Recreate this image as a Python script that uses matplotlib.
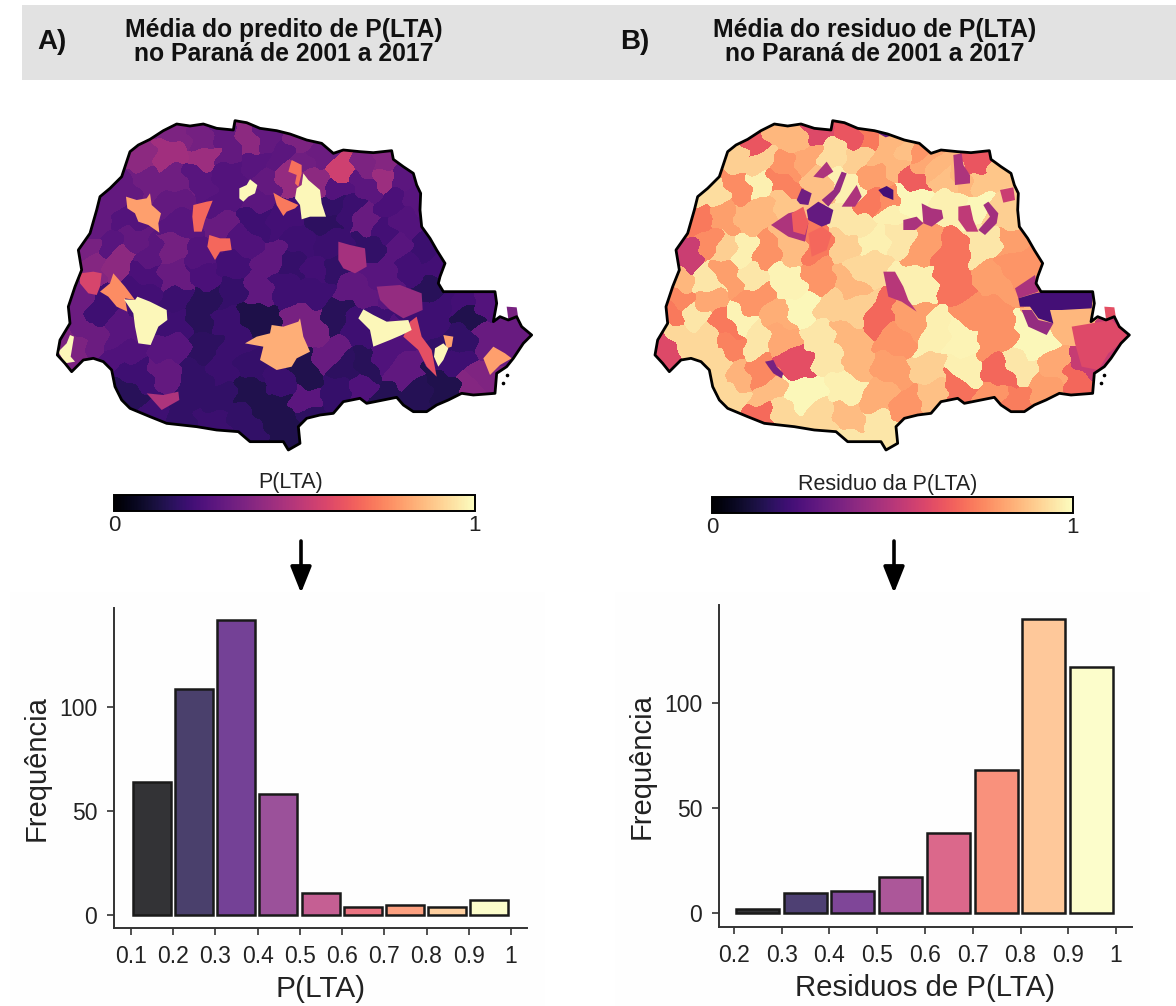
import numpy as np
import matplotlib
matplotlib.use('Agg')
import matplotlib.pyplot as plt
from matplotlib.cm import ScalarMappable
from matplotlib.collections import PolyCollection
from matplotlib.colors import Normalize
from matplotlib.patches import Polygon, Rectangle

plt.rcParams['font.family'] = ['Liberation Sans', 'DejaVu Sans']

W, H = 1176, 1006

# histograms
bins_a = ['0.1', '0.2', '0.3', '0.4', '0.5', '0.6', '0.7', '0.8', '0.9', '1']
freq_a = [64, 108.5, 142, 58, 10.5, 4, 5, 4, 7]
bins_b = ['0.2', '0.3', '0.4', '0.5', '0.6', '0.7', '0.8', '0.9', '1']
freq_b = [2, 9.5, 10.5, 17, 38, 68, 140, 117]

# state outline (3x crop coordinates)
outline = [(240, 125), (265, 105), (300, 88), (340, 62), (380, 42), (420, 48), (460, 42), (500, 55),
           (550, 60), (555, 32), (590, 38), (630, 55), (680, 62), (720, 72), (770, 90), (815, 100),
           (850, 130), (880, 120), (930, 125), (970, 128), (1025, 122), (1030, 148), (1060, 170),
           (1090, 190), (1100, 225), (1112, 250), (1110, 300), (1115, 350), (1140, 385), (1160, 420),
           (1185, 460), (1170, 500), (1165, 520), (1180, 545), (1240, 545), (1300, 545), (1335, 545),
           (1340, 580), (1330, 635), (1350, 620), (1375, 630), (1400, 620), (1415, 650), (1445, 675),
           (1420, 700), (1390, 745), (1370, 770), (1340, 790), (1335, 850), (1270, 855), (1235, 850),
           (1195, 870), (1160, 885), (1130, 905), (1090, 905), (1060, 885), (1040, 862), (1000, 870),
           (950, 880), (930, 865), (880, 875), (850, 910), (810, 915), (770, 925), (745, 950),
           (750, 1000), (715, 1020), (700, 995), (650, 995), (600, 995), (565, 965), (500, 960),
           (440, 950), (350, 940), (300, 920), (240, 895), (215, 870), (195, 830), (185, 780),
           (160, 755), (130, 745), (100, 750), (65, 785), (45, 760), (22, 735), (30, 690), (60, 640),
           (55, 590), (75, 530), (95, 480), (85, 420), (120, 370), (140, 300), (150, 260), (180, 235),
           (215, 200)]
islands = [(1370, 795), (1360, 820)]

# municipalities panel A: x, y, P(LTA)
cells_a = [(380, 75, .36), (450, 80, .34), (520, 85, .30), (590, 100, .40), (650, 90, .30), (730, 100, .36),
           (800, 125, .32), (270, 150, .40), (355, 130, .45), (465, 135, .44), (535, 130, .30), (620, 150, .27),
           (690, 130, .28), (770, 155, .33), (880, 195, .56), (950, 170, .36), (1005, 195, .44), (1010, 150, .38),
           (215, 230, .30), (290, 200, .33), (370, 215, .33), (450, 200, .27), (530, 195, .26), (650, 210, .30),
           (710, 205, .42), (800, 200, .40), (860, 240, .26), (940, 220, .28), (1060, 210, .28), (190, 290, .30),
           (370, 280, .30), (520, 290, .26), (620, 270, .28), (850, 290, .18), (950, 320, .31), (1020, 280, .24),
           (1085, 260, .27), (150, 340, .30), (225, 330, .26), (390, 340, .27), (520, 330, .31), (620, 320, .21),
           (700, 330, .22), (830, 320, .17), (900, 300, .20), (1060, 340, .26), (1000, 360, .22), (110, 420, .35),
           (180, 400, .27), (240, 390, .30), (360, 420, .34), (300, 430, .28), (450, 430, .26), (570, 400, .25),
           (670, 450, .29), (740, 400, .21), (830, 400, .20), (970, 410, .18), (1030, 420, .27), (1120, 420, .20),
           (125, 450, .38), (210, 450, .40), (290, 490, .24), (370, 500, .31), (470, 490, .24), (550, 470, .22),
           (620, 540, .29), (730, 460, .19), (800, 470, .22), (860, 480, .18), (1000, 480, .27), (1090, 470, .22),
           (1150, 460, .22), (90, 590, .32), (280, 540, .22), (370, 580, .20), (470, 570, .16), (540, 550, .19),
           (700, 530, .21), (790, 530, .21), (900, 540, .29), (1140, 520, .16), (1240, 580, .22), (1300, 570, .26),
           (80, 650, .32), (140, 600, .21), (200, 680, .27), (380, 640, .21), (450, 620, .16), (530, 640, .20),
           (620, 610, .13), (780, 640, .35), (870, 620, .16), (1170, 590, .21), (1260, 610, .14), (60, 700, .36),
           (130, 670, .32), (220, 730, .25), (370, 720, .27), (460, 700, .17), (550, 720, .20), (840, 740, .31),
           (920, 650, .21), (1000, 740, .25), (1230, 700, .18), (1310, 680, .31), (1390, 680, .31), (260, 800, .21),
           (350, 790, .30), (440, 800, .18), (520, 780, .20), (600, 760, .19), (770, 780, .14), (880, 780, .17),
           (1040, 800, .29), (960, 760, .16), (1230, 760, .21), (1290, 800, .37), (240, 860, .16), (420, 870, .18),
           (500, 860, .18), (600, 840, .14), (680, 810, .20), (780, 880, .28), (850, 840, .19), (930, 830, .25),
           (1000, 850, .15), (1100, 860, .15), (1180, 840, .14), (1260, 830, .38), (320, 910, .21), (400, 920, .18),
           (480, 930, .20), (590, 930, .18), (660, 900, .14), (710, 960, .14), (790, 900, .17)]

# municipalities that stand out in panel A: value, outline
spots_a = [(.42, [(980, 530), (1050, 525), (1115, 550), (1118, 600), (1060, 625), (1020, 600), (990, 570)]),
           (.985, [(760, 190), (775, 210), (810, 240), (815, 280), (828, 320), (780, 320), (755, 328), (750, 285), (735, 265), (740, 235), (755, 225)]),
           (.70, [(725, 150), (755, 165), (755, 190), (745, 230), (735, 220), (740, 195), (715, 185)]),
           (.985, [(568, 235), (590, 225), (600, 208), (622, 225), (615, 250), (595, 260), (580, 275), (568, 265)]),
           (.72, [(670, 248), (700, 265), (745, 285), (735, 295), (710, 305), (700, 318), (680, 285)]),
           (.80, [(228, 260), (260, 270), (290, 265), (300, 250), (305, 285), (333, 310), (325, 340), (328, 368), (295, 345), (265, 335), (255, 310), (232, 295)]),
           (.68, [(430, 285), (470, 275), (488, 272), (465, 330), (455, 365), (432, 365), (427, 320)]),
           (.68, [(478, 375), (510, 385), (540, 385), (545, 420), (510, 425), (495, 450), (472, 410)]),
           (.46, [(865, 395), (900, 405), (945, 415), (950, 470), (915, 490), (880, 475), (865, 450)]),
           (.58, [(90, 490), (130, 485), (155, 490), (150, 530), (140, 555), (115, 550), (90, 520)]),
           (.76, [(150, 545), (180, 520), (190, 490), (225, 530), (255, 570), (225, 565), (232, 605), (200, 590), (175, 560)]),
           (.985, [(222, 568), (255, 570), (262, 560), (300, 575), (350, 600), (352, 630), (325, 650), (302, 705), (265, 700), (255, 650), (250, 610)]),
           (.83, [(585, 700), (620, 680), (660, 670), (665, 645), (700, 650), (745, 635), (750, 625), (760, 680), (780, 725), (740, 745), (725, 770), (680, 780), (630, 750), (640, 710)]),
           (.62, [(1080, 635), (1100, 620), (1115, 680), (1145, 720), (1160, 800), (1130, 770), (1105, 720), (1060, 680)]),
           (.985, [(925, 625), (940, 598), (970, 615), (1010, 635), (1075, 630), (1085, 660), (1055, 675), (1020, 690), (970, 710), (960, 660)]),
           (.80, [(1180, 675), (1210, 680), (1205, 710), (1190, 715)]),
           (.985, [(1155, 715), (1180, 700), (1195, 715), (1180, 750), (1165, 770), (1152, 740)]),
           (.80, [(1300, 745), (1330, 710), (1365, 730), (1385, 745), (1350, 765), (1320, 795)]),
           (.985, [(25, 725), (50, 700), (60, 675), (72, 680), (62, 740), (75, 755), (45, 760)]),
           (.48, [(290, 850), (340, 855), (385, 845), (388, 870), (335, 900)])]

# municipalities panel B: x, y, residual
cells_b = [(380, 80, .85), (450, 85, .85), (520, 75, .60), (620, 75, .64), (670, 85, .72), (725, 85, .85), (770, 120, .87),
           (820, 120, .78), (330, 100, .64), (270, 140, .90), (350, 150, .90), (420, 165, .78), (480, 130, .82),
           (560, 130, .93), (640, 130, .90), (710, 130, .85), (760, 170, .85), (800, 200, .66), (840, 150, .82),
           (880, 180, .85), (950, 200, .85), (1010, 150, .64), (1070, 180, .88), (200, 260, .93), (280, 230, .76),
           (340, 225, .97), (410, 220, .74), (400, 280, .88), (520, 225, .87), (600, 230, .97), (690, 200, .80),
           (790, 260, .985), (900, 210, .87), (1010, 220, .88), (1060, 290, .90), (170, 330, .72), (240, 320, .80),
           (310, 310, .85), (360, 300, .85), (680, 280, .72), (720, 280, .76), (600, 330, .95), (660, 340, .95),
           (740, 320, .97), (910, 280, .97), (1000, 280, .985), (1090, 320, .90), (130, 430, .55), (190, 400, .76),
           (240, 420, .90), (290, 420, .97), (360, 430, .77), (430, 400, .86), (520, 395, .72), (590, 400, .90),
           (680, 380, .97), (760, 370, .95), (830, 400, .80), (920, 430, .71), (1020, 400, .95), (1100, 400, .80),
           (1140, 440, .78), (100, 500, .85), (100, 570, .75), (180, 520, .95), (250, 490, .80), (320, 490, .95),
           (425, 525, .98), (530, 510, .78), (610, 520, .85), (660, 470, .92), (820, 520, .97), (920, 520, .71),
           (1040, 510, .80), (1110, 470, .78), (95, 600, .72), (150, 610, .95), (180, 570, .82), (290, 630, .98),
           (250, 650, .72), (330, 570, .78), (400, 620, .83), (470, 590, .985), (560, 590, .90), (630, 590, .90),
           (705, 630, .68), (800, 620, .80), (1000, 600, .77), (1240, 640, .85), (60, 725, .60), (100, 680, .92),
           (170, 690, .92), (250, 700, .74), (330, 680, .95), (400, 680, .82), (520, 680, .95), (600, 680, .85),
           (740, 690, .78), (870, 670, .97), (940, 690, .98), (1040, 680, .77), (1170, 700, .985), (1340, 750, .54),
           (220, 770, .92), (280, 800, .84), (340, 800, .75), (460, 745, .62), (560, 750, .95), (640, 760, .85),
           (730, 780, .80), (860, 790, .90), (960, 780, .97), (1055, 800, .68), (1140, 760, .95), (1230, 780, .82),
           (1290, 810, .68), (1200, 830, .80), (260, 860, .92), (360, 850, .86), (470, 850, .985), (600, 820, .97),
           (700, 860, .83), (790, 880, .78), (860, 840, .87), (930, 830, .70), (1040, 860, .78), (1110, 880, .73),
           (350, 915, .69), (420, 910, .92), (520, 930, .92), (620, 930, .86), (690, 950, .95), (720, 990, .95),
           (620, 975, .95)]

spots_b = [(.48, [(378, 345), (430, 310), (470, 300), (490, 340), (480, 395), (430, 380)]),
           (.66, [(440, 310), (475, 290), (490, 340), (480, 375), (445, 365)]),
           (.68, [(490, 370), (530, 350), (560, 370), (545, 420), (500, 440)]),
           (.30, [(485, 300), (520, 275), (565, 300), (555, 340), (530, 350), (490, 330)]),
           (.33, [(455, 270), (470, 235), (500, 250), (490, 285), (465, 282)]),
           (.48, [(505, 200), (545, 155), (565, 185), (535, 205)]),
           (.42, [(530, 270), (565, 240), (590, 185), (605, 190), (585, 245), (550, 290)]),
           (.48, [(590, 290), (635, 225), (650, 260), (630, 290)]),
           (.22, [(700, 240), (725, 228), (745, 240), (745, 270), (715, 258)]),
           (.30, [(700, 70), (725, 58), (745, 75), (722, 82)]),
           (.48, [(925, 135), (950, 130), (955, 165), (975, 195), (975, 220), (930, 225), (928, 180)]),
           (.52, [(940, 290), (975, 285), (985, 330), (1000, 365), (965, 365), (940, 330)]),
           (.45, [(1000, 360), (1035, 320), (1015, 285), (1030, 275), (1060, 310), (1055, 340), (1020, 375)]),
           (.47, [(830, 280), (860, 295), (890, 300), (895, 325), (860, 350), (835, 340)]),
           (.47, [(775, 330), (815, 320), (835, 340), (810, 360), (775, 360)]),
           (.55, [(1065, 240), (1105, 232), (1110, 270), (1075, 278)]),
           (.47, [(1110, 535), (1170, 495), (1180, 545), (1120, 565)]),
           (.42, [(1130, 600), (1160, 600), (1180, 630), (1225, 640), (1205, 675), (1150, 650)]),
           (.22, [(1120, 565), (1170, 550), (1200, 545), (1345, 545), (1340, 595), (1250, 600), (1215, 600), (1225, 640), (1180, 625), (1155, 590), (1125, 590)]),
           (.50, [(715, 485), (750, 485), (775, 530), (790, 570), (815, 605), (770, 575), (730, 560)]),
           (.35, [(360, 755), (385, 750), (395, 770), (415, 790), (410, 805), (385, 790), (370, 770)]),
           (.60, [(1280, 650), (1340, 640), (1400, 630), (1450, 680), (1390, 730), (1360, 780), (1310, 770), (1290, 700)])]

# small municipality sticking out of the coast, own value per panel
extra_piece = [(1370, 590), (1400, 592), (1405, 625), (1375, 628)]
extra_value = [.35, .62]


def to_px(pts, x0, y0=110):
    return [(x0 + x / 3, y0 + y / 3) for x, y in pts]


def draw_map(ax, cells, spots, x0, shift, extra):
    cells = np.array(cells)
    # nearest-seat mosaic, one grid step per output pixel
    gx, gy = np.meshgrid(np.arange(0, 1480, 3), np.arange(0, 1050, 3))
    # wiggle the grid a little so borders are not straight lines
    wx = gx + 10 * np.sin(gy / 23) + 6 * np.sin(gy / 9 + gx / 31)
    wy = gy + 10 * np.sin(gx / 27) + 6 * np.sin(gx / 11 + gy / 29)
    d = (wx[..., None] - cells[:, 0]) ** 2 + (wy[..., None] - cells[:, 1]) ** 2
    vals = cells[:, 2][d.argmin(axis=2)]
    shape = [(x + shift, y) for x, y in outline]
    border = Polygon(to_px(shape, x0), closed=True, fc='none', ec='black', lw=2.0, zorder=4, joinstyle='round')
    ax.add_patch(border)
    im = ax.imshow(vals, cmap='magma', vmin=0, vmax=1, interpolation='bilinear', aspect='auto', zorder=2,
                   extent=(x0, x0 + 1480 / 3, 110 + 1050 / 3, 110))
    im.set_clip_path(border)
    pc = PolyCollection([to_px(s, x0) for _, s in spots], array=np.array([v for v, _ in spots]),
                        cmap='magma', norm=Normalize(0, 1), edgecolors='none', zorder=3)
    ax.add_collection(pc)
    pc.set_clip_path(border)
    piece = PolyCollection([to_px([(x + shift, y) for x, y in extra_piece], x0)], array=np.array([extra]),
                           cmap='magma', norm=Normalize(0, 1), edgecolors='none', zorder=3)
    ax.add_collection(piece)
    for x, y in to_px([(x + shift, y) for x, y in islands], x0):
        ax.plot(x, y, 'o', ms=1.6, color='black', zorder=4)


def px_axes(fig, left, right, top, bottom, **kw):
    return fig.add_axes([left / W, 1 - bottom / H, (right - left) / W, (bottom - top) / H], **kw)


def draw_hist(fig, box, labels, freq, xlim, ylim, xlabel, label_size):
    ax = px_axes(fig, *box)
    ax.patch.set_alpha(0)
    ticks = [float(t) for t in labels]
    colors = plt.get_cmap('magma')(np.linspace(0, 1, len(freq)))
    colors[:, 3] = 0.8
    ax.bar(np.array(ticks[:-1]) + 0.004, freq, width=0.09, align='edge', color=colors,
           edgecolor='#1a1a1a', linewidth=1.8)
    ax.set_xticks(ticks)
    ax.set_xticklabels(labels)
    ax.set_yticks([0, 50, 100])
    ax.set_xlim(*xlim)
    ax.set_ylim(*ylim)
    ax.spines[['top', 'right']].set_visible(False)
    ax.spines[['left', 'bottom']].set_linewidth(1.4)
    ax.spines[['left', 'bottom']].set_color('#333333')
    ax.tick_params(labelsize=16.5, length=5, width=1.2, color='#333333', labelcolor='#222222', pad=7)
    ax.set_xlabel(xlabel, fontsize=label_size, color='#222222', labelpad=5)
    ax.set_ylabel('Frequência', fontsize=21, color='#222222', labelpad=6)


def draw_cbar(fig, left, top, label, label_x):
    cax = px_axes(fig, left, left + 361, top, top + 16)
    cb = fig.colorbar(ScalarMappable(Normalize(0, 1), 'magma'), cax=cax, orientation='horizontal')
    cb.set_ticks([0, 1], labels=['0', '1'])
    cb.ax.tick_params(length=0, labelsize=16, pad=3, labelcolor='#222222')
    cb.outline.set_linewidth(1.4)
    cb.outline.set_edgecolor('black')
    cax.set_title(label, fontsize=15.5, pad=5, color='#222222', x=label_x)


fig = plt.figure(figsize=(W / 100, H / 100), dpi=100)
bg = fig.add_axes([0, 0, 1, 1])
bg.set_axis_off()

bg.add_patch(Rectangle((22, 5), W - 22, 75, fc='#e2e2e2', ec='none'))
bg.add_patch(Rectangle((10, 592), 535, 414, fc='#fefefe', ec='none'))
bg.add_patch(Rectangle((615, 592), 535, 414, fc='#fefefe', ec='none'))

headers = [('A)', 52, 'Média do predito de P(LTA)\nno Paraná de 2001 a 2017', 283.5),
           ('B)', 635, 'Média do residuo de P(LTA)\nno Paraná de 2001 a 2017', 874.5)]
for tag, tx, title, cx in headers:
    bg.text(tx, 42, tag, fontsize=20, fontweight='bold', ha='center', va='center', color='#111111')
    bg.text(cx, 42, title, fontsize=17.8, fontweight='bold', ha='center', va='center', color='#111111', linespacing=1.05)

draw_map(bg, cells_a, spots_a, 50, 0, extra_value[0])
draw_map(bg, cells_b, spots_b, 645, 8, extra_value[1])

for arrow_x in (301, 894):
    bg.annotate('', xy=(arrow_x, 593), xytext=(arrow_x, 541),
                arrowprops=dict(arrowstyle='-|>,head_length=0.5,head_width=0.2', color='black', lw=2.6,
                                mutation_scale=32, shrinkA=0, shrinkB=0))

bg.set_xlim(0, W)
bg.set_ylim(H, 0)

draw_cbar(fig, 114, 495, 'P(LTA)', 0.49)
draw_cbar(fig, 712, 497, 'Residuo da P(LTA)', 0.4875)

draw_hist(fig, (114, 527, 608, 928), bins_a, freq_a, (0.0597, 1.038), (-6.25, 147.6), 'P(LTA)', 21.5)
draw_hist(fig, (719, 1132, 605, 927), bins_b, freq_b, (0.1686, 1.0335), (-6.7, 146.7), 'Residuos de P(LTA)', 21.2)

fig.savefig('out.png', dpi=100)
